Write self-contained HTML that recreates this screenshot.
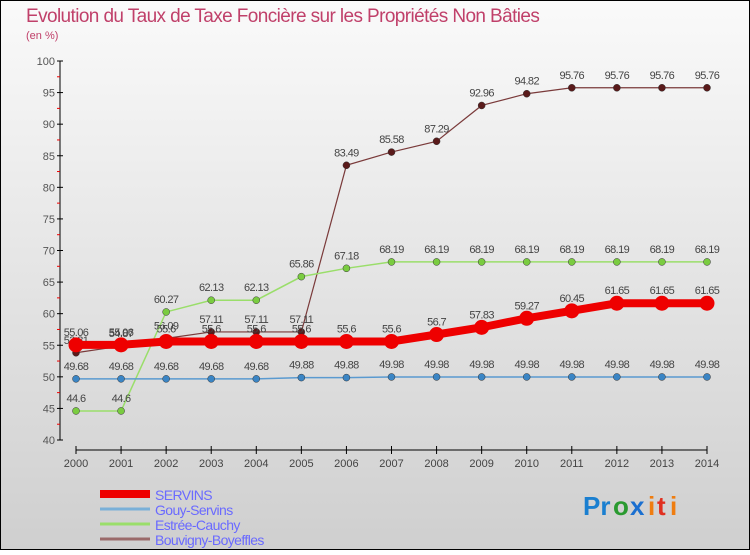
<!DOCTYPE html>
<html><head><meta charset="utf-8"><style>
body{margin:0;width:750px;height:550px;overflow:hidden;font-family:"Liberation Sans",sans-serif}
svg text{font-family:"Liberation Sans",sans-serif}
</style></head><body>
<svg id="chart" width="750" height="550" viewBox="0 0 750 550" xmlns="http://www.w3.org/2000/svg">
<defs><linearGradient id="bg" x1="0" y1="0" x2="0" y2="1"><stop offset="0" stop-color="#fafafa"/><stop offset="1" stop-color="#cfcfcf"/></linearGradient></defs>
<rect x="0.5" y="0.5" width="749" height="549" fill="url(#bg)" stroke="#000"/>
<text x="26" y="22" font-size="19" fill="#c0406a" letter-spacing="-0.6">Evolution du Taux de Taxe Foncière sur les Propriétés Non Bâties</text>
<text x="26" y="39" font-size="11" fill="#c0406a">(en %)</text>
<g id="axes"></g><g id="series"></g><g id="legend"></g>
<g font-size="26" font-weight="bold">
<text x="583" y="515" fill="#1a7fd0">Pr</text><text x="613" y="515" fill="#2a9a30">o</text><text x="630" y="515" fill="#1a6fd0">x</text><text x="648" y="515" fill="#ef7d10">i</text><text x="657" y="515" fill="#e03020">t</text><text x="670" y="515" fill="#ef7d10">i</text>
</g>
</svg>
<script>
const years=[2000,2001,2002,2003,2004,2005,2006,2007,2008,2009,2010,2011,2012,2013,2014];
const servins=[55.06,55.06,55.6,55.6,55.6,55.6,55.6,55.6,56.7,57.83,59.27,60.45,61.65,61.65,61.65];
const gouy=[49.68,49.68,49.68,49.68,49.68,49.88,49.88,49.98,49.98,49.98,49.98,49.98,49.98,49.98,49.98];
const estree=[44.6,44.6,60.27,62.13,62.13,65.86,67.18,68.19,68.19,68.19,68.19,68.19,68.19,68.19,68.19];
const bouvigny=[53.81,54.87,56.09,57.11,57.11,57.11,83.49,85.58,87.29,92.96,94.82,95.76,95.76,95.76,95.76];
const yTicks=[40,45,50,55,60,65,70,75,80,85,90,95,100];
const seriesNames=["SERVINS","Gouy-Servins","Estrée-Cauchy","Bouvigny-Boyeffles"];
const NS="http://www.w3.org/2000/svg";
const X=i=>76+i*(707-76)/(years.length-1);
const Y=v=>440-(v-40)*(440-61)/60;
function mk(p,tag,at,txt){const e=document.createElementNS(NS,tag);for(const k in at)e.setAttribute(k,at[k]);if(txt!=null)e.textContent=txt;p.appendChild(e);return e;}
const axes=document.getElementById('axes');
let a=mk(axes,'line',{x1:60,y1:Y(100),x2:60,y2:Y(40),stroke:'#000'});


yTicks.forEach(t=>{
 mk(axes,'line',{x1:57,x2:63,y1:Y(t),y2:Y(t),stroke:'#000'});
 const l=mk(axes,'text',{x:55,y:Y(t)+4,'font-size':11,'text-anchor':'end',fill:'#555'},t);
 
 
 if(t<100)mk(axes,'line',{x1:57,x2:60,y1:Y(t+2.5),y2:Y(t+2.5),stroke:'#e00'});
});
a=mk(axes,'line',{x1:76,y1:450,x2:707,y2:450,stroke:'#000'});


years.forEach((y,i)=>{
 mk(axes,'line',{x1:X(i),x2:X(i),y1:446,y2:454,stroke:'#000'});
 const l=mk(axes,'text',{x:X(i),y:467,'font-size':11,'text-anchor':'middle',fill:'#444'},y);
 
 
});
const sg=document.getElementById('series');
const defs=[[bouvigny,'#7a3a3a','#5a1a1a',1.2,3.5,'bouvigny-boyeffles'],[estree,'#9ade6a','#7acc40',1.5,3.5,'estree-cauchy'],[gouy,'#5a9ad0','#3a85c5',1.5,3.5,'gouy-servins'],[servins,'#ee0000','#ee0000',8,7.5,'servins']];
defs.forEach(([d,lc,pc,w,r,name])=>{
 const g=mk(sg,'g',{});
 
 
 const ln=mk(g,'polyline',{points:d.map((v,i)=>X(i)+','+Y(v)).join(' '),fill:'none',stroke:lc,'stroke-width':w});
 
 
 d.forEach((v,i)=>{
  const c=mk(g,'circle',{cx:X(i),cy:Y(v),r:r,fill:pc,stroke:name==='servins'?'none':'#333','stroke-width':0.5});
  
  
  const t=mk(g,'text',{x:X(i),y:Y(v)-9,'font-size':11,'text-anchor':'middle',fill:'#444','letter-spacing':'-0.6'},v);
  
  
 });
});
const lg=document.getElementById('legend');
const lc=['#ee0000','#7ab0d8','#9ade6a','#9a6a6a'];const lw=[8,3,3,3];
seriesNames.forEach((n,i)=>{
 const y=494+i*15;
 const g=mk(lg,'g',{});
 
 
 mk(g,'line',{x1:100,x2:150,y1:y,y2:y,stroke:lc[i],'stroke-width':lw[i]});
 mk(g,'text',{x:155,y:y+6,'font-size':14,fill:'#6a6aff','letter-spacing':'-0.6'},n);
});
</script>
</body></html>
